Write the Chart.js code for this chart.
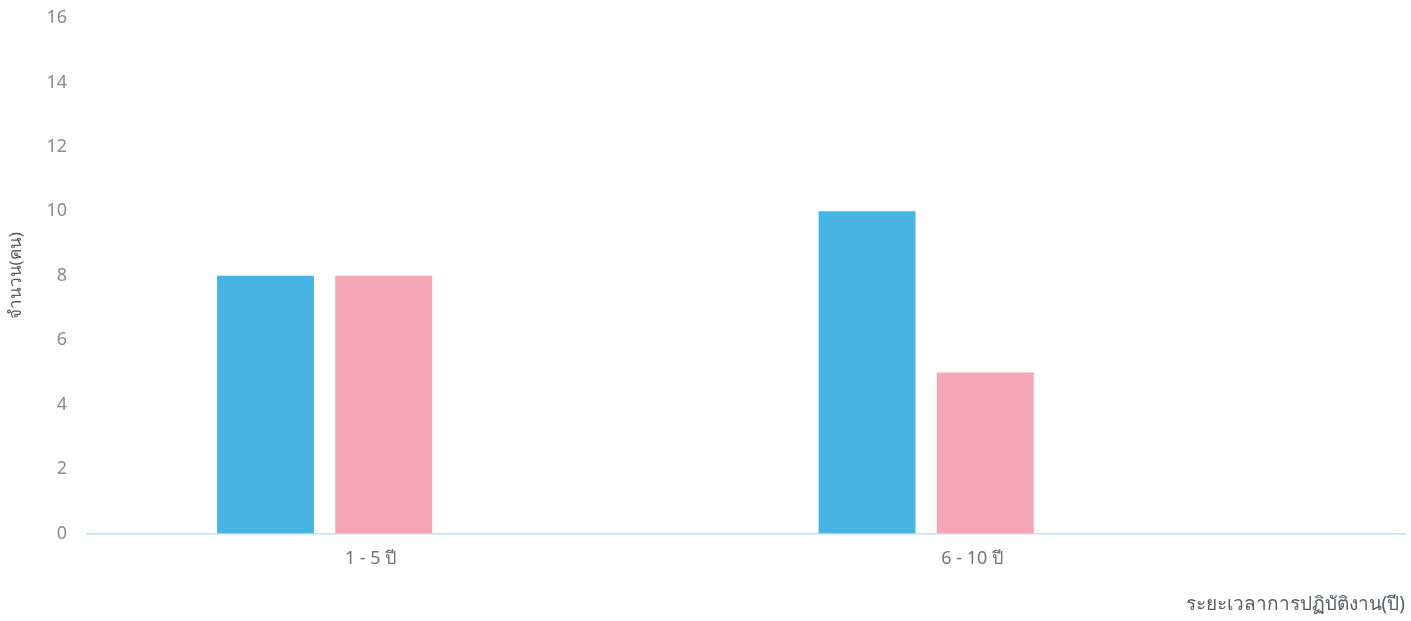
<!DOCTYPE html>
<html>
<head>
<meta charset="utf-8">
<script src="https://cdn.jsdelivr.net/npm/chart.js@4"></script>
<style>
html,body{margin:0;padding:0;background:#fff;}
#wrap{width:1411px;height:621px;}
</style>
</head>
<body>
<div id="wrap"><canvas id="c" width="1411" height="621"></canvas></div>
<script>
const categories = ['1 - 5 ปี', '6 - 10 ปี'];
const seriesA = [8, 10];
const seriesB = [8, 5];
const yTicks = [0, 2, 4, 6, 8, 10, 12, 14, 16];
const yTitle = 'จำนวน(คน)';
const xTitle = 'ระยะเวลาการปฏิบัติงาน(ปี)';

const toPts = arr => arr.map((v, i) => ({x: i, y: v}));

new Chart(document.getElementById('c'), {
  type: 'bar',
  data: {
    datasets: [
      {label: 'A', data: toPts(seriesA), backgroundColor: 'rgb(72,180,228)', categoryPercentage: 0.393, barPercentage: 0.82},
      {label: 'B', data: toPts(seriesB), backgroundColor: 'rgb(245,166,182)', categoryPercentage: 0.393, barPercentage: 0.82}
    ]
  },
  options: {
    responsive: false,
    animation: false,
    layout: {padding: {top: 18, right: 6, left: 6, bottom: 5}},
    plugins: {legend: {display: false}, tooltip: {enabled: false}},
    scales: {
      x: {
        type: 'linear',
        offset: false,
        min: -0.395,
        max: 1.796,
        afterBuildTicks: s => { s.ticks = categories.map((c, i) => ({value: i})); },
        ticks: {
          callback: v => categories[v],
          color: '#707478',
          font: {family: 'Noto Sans', size: 18},
          padding: 14,
          labelOffset: 46,
          autoSkip: false,
          maxRotation: 0
        },
        grid: {display: false, drawTicks: false, offset: false},
        border: {display: true, color: '#bfe0f0', width: 1.5},
        title: {display: true, text: xTitle, align: 'end', color: '#5a5e62', font: {family: 'Noto Sans', size: 19}, padding: {top: 10, bottom: 0}}
      },
      y: {
        min: 0,
        max: 16,
        afterBuildTicks: s => { s.ticks = yTicks.map(v => ({value: v})); },
        afterFit: s => { s.paddingTop = 0; },
        ticks: {color: '#888c90', font: {family: 'Noto Sans', size: 18}, padding: 20},
        grid: {display: false, drawTicks: false},
        border: {display: false},
        title: {display: true, text: yTitle, color: '#5a5e62', font: {family: 'Noto Sans', size: 17}, padding: {top: 0, bottom: 0}}
      }
    }
  }
});
</script>
</body>
</html>
